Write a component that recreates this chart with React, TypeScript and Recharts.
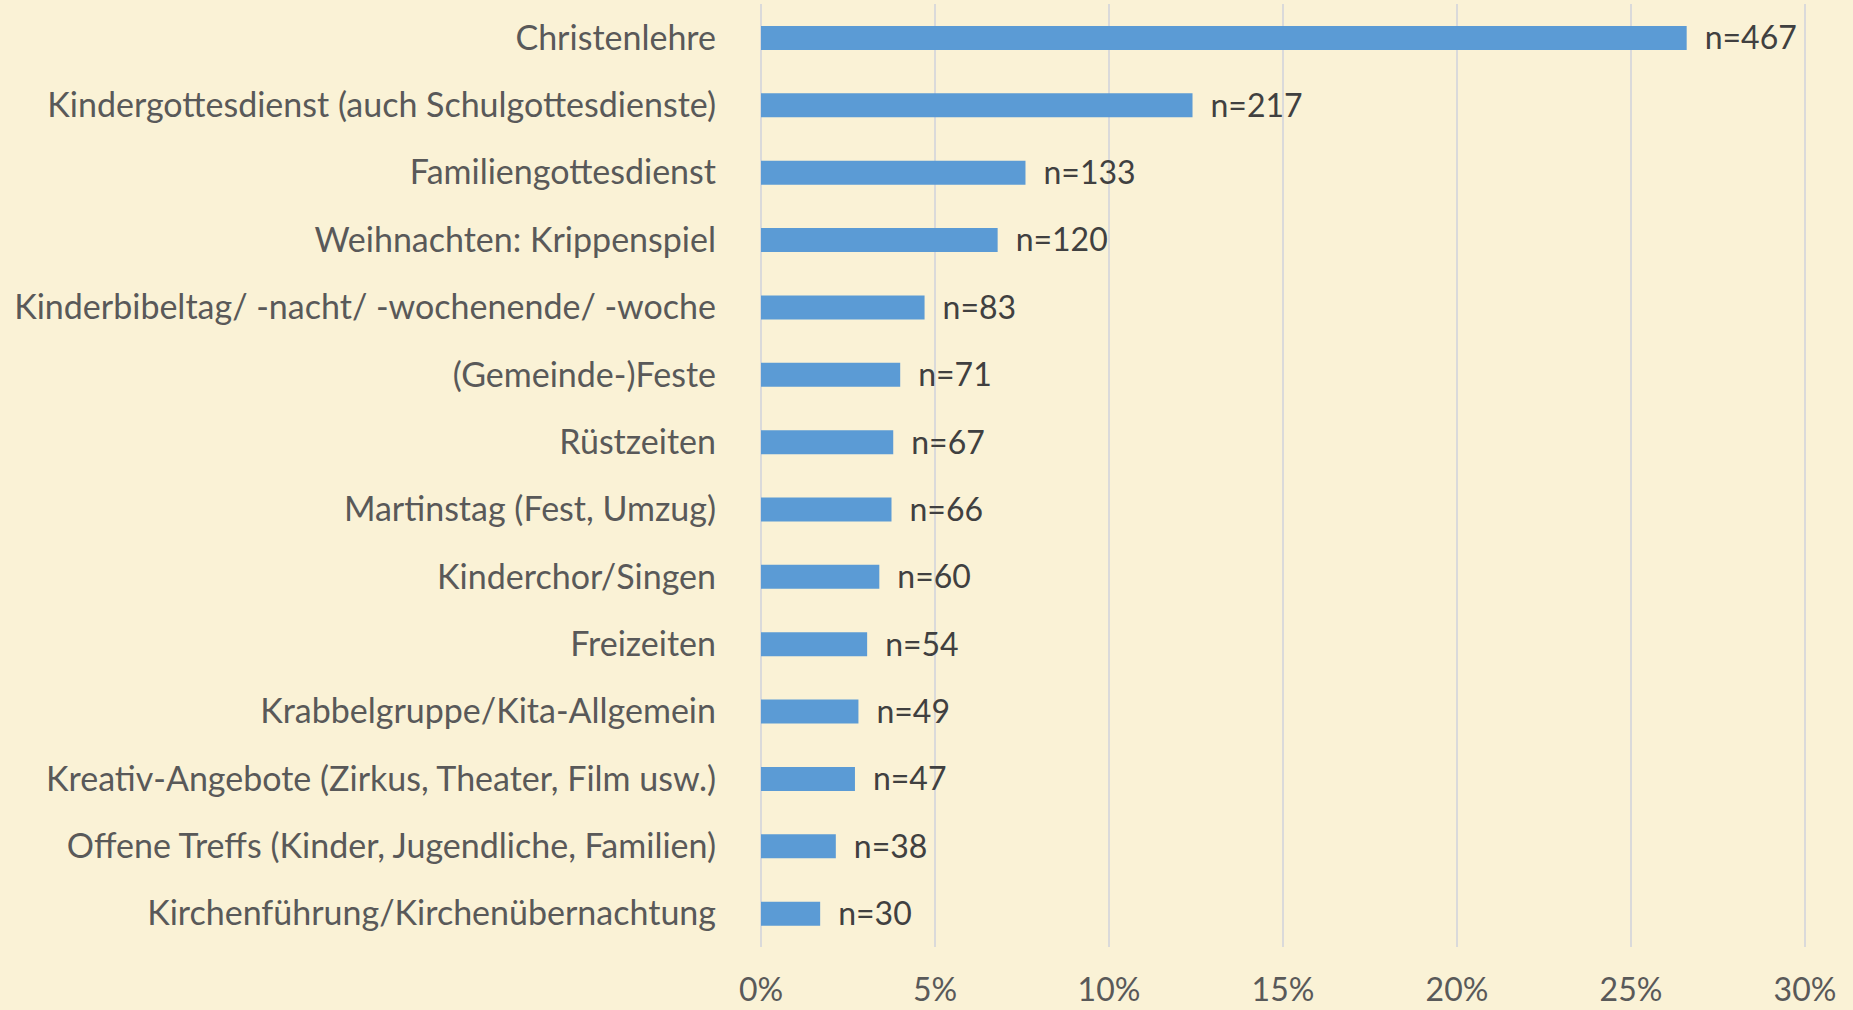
import React from 'react';
import { BarChart, Bar, XAxis, YAxis, CartesianGrid, LabelList } from 'recharts';

const categories = [
  'Christenlehre',
  'Kindergottesdienst (auch Schulgottesdienste)',
  'Familiengottesdienst',
  'Weihnachten: Krippenspiel',
  'Kinderbibeltag/ -nacht/ -wochenende/ -woche',
  '(Gemeinde-)Feste',
  'Rüstzeiten',
  'Martinstag (Fest, Umzug)',
  'Kinderchor/Singen',
  'Freizeiten',
  'Krabbelgruppe/Kita-Allgemein',
  'Kreativ-Angebote (Zirkus, Theater, Film usw.)',
  'Offene Treffs (Kinder, Jugendliche, Familien)',
  'Kirchenführung/Kirchenübernachtung',
];

// share in percent
const shares = [26.6, 12.4, 7.6, 6.8, 4.7, 4.0, 3.8, 3.75, 3.4, 3.05, 2.8, 2.7, 2.15, 1.7];
const counts = [467, 217, 133, 120, 83, 71, 67, 66, 60, 54, 49, 47, 38, 30];
const xTicks = [0, 5, 10, 15, 20, 25, 30];

const data = categories.map((name, i) => ({ name, share: shares[i], count: counts[i] }));

const FONT = 'Lato, "Open Sans", sans-serif';

const App = () => {
  return (
    <div style={{ position: 'fixed', left: 0, top: 0, width: 1853, height: 1010, background: '#FAF2D6' }}>
      <BarChart
        width={1853}
        height={1010}
        layout="vertical"
        data={data}
        margin={{ top: 4, right: 48, left: 0, bottom: 0 }}
      >
        <CartesianGrid horizontal={false} stroke="#DADADA" strokeWidth={2} />
        <XAxis
          type="number"
          domain={[0, 30]}
          ticks={xTicks}
          tickFormatter={(v) => `${v}%`}
          axisLine={false}
          tickLine={false}
          tickSize={0}
          tickMargin={31}
          height={63}
          interval={0}
          tick={{ fill: '#595959', fontSize: 32, fontFamily: FONT }}
        />
        <YAxis
          type="category"
          dataKey="name"
          width={761}
          axisLine={false}
          tickLine={false}
          tickSize={0}
          tickMargin={45}
          interval={0}
          tick={{ fill: '#595959', fontSize: 34, fontFamily: FONT }}
        />
        <Bar dataKey="share" fill="#5B9BD5" barSize={24} isAnimationActive={false}>
          <LabelList
            dataKey="count"
            position="right"
            offset={18}
            formatter={(v: number) => `n=${v}`}
            style={{ fill: '#404040', fontSize: 32, fontFamily: FONT }}
          />
        </Bar>
      </BarChart>
    </div>
  );
};

export default App;
